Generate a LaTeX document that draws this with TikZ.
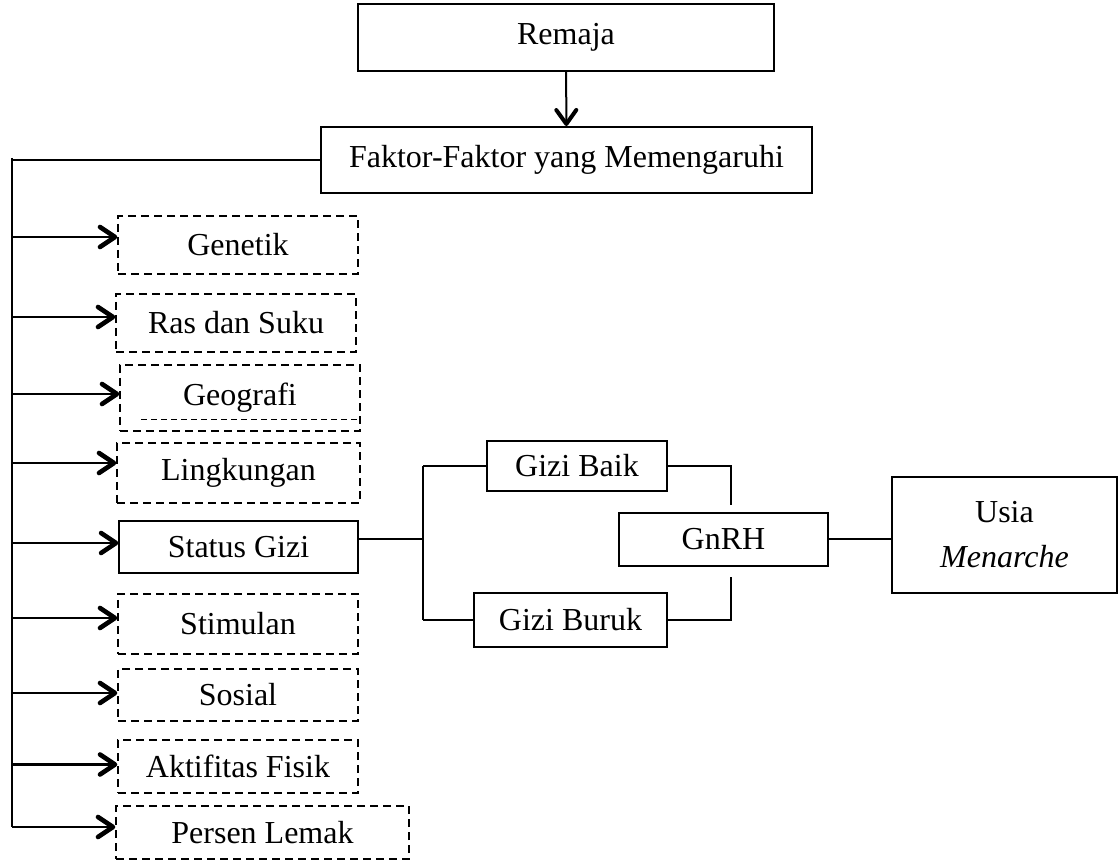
\documentclass[tikz,border=0pt]{standalone}
\usepackage{fontspec}
\setmainfont{Liberation Serif}
\usetikzlibrary{arrows.meta}

\tikzset{
  box/.style={draw, line width=0.6pt, inner sep=0pt, font=\fontsize{16}{19}\selectfont, align=center},
  dbox/.style={box, dash pattern=on 4pt off 2.5pt, line width=0.7pt},
  link/.style={line width=0.8pt},
  arr/.style={line width=1.3pt, -{Straight Barb[length=7.5pt,width=10pt,line width=2.3pt,round]}},
}

\begin{document}
\begin{tikzpicture}[x=0.5pt,y=-0.5pt]
      \useasboundingbox (0,0) rectangle (1119,865);

      % top
      \node[box, line width=1pt, minimum width=208pt, minimum height=33.5pt] (remaja) at (566,37.5) {Remaja};
      \node[box, line width=1pt, minimum width=245.5pt, minimum height=33pt] (faktor) at (566.5,160) {Faktor-Faktor yang Memengaruhi};
      \draw[line width=1pt, -{Straight Barb[length=7pt,width=10pt,line width=2pt,round]}] (remaja) -- (faktor);

      % faktor-faktor
      \node[dbox, minimum width=120pt, minimum height=29pt] (gen) at (238,245) {Genetik};
      \node[dbox, minimum width=120pt, minimum height=29pt] (ras) at (236,323) {Ras dan Suku};
      \node[dbox, minimum width=120pt, minimum height=33pt] (geo) at (240,398) {Geografi};
      \draw[dash pattern=on 3pt off 2pt, line width=0.4pt] ([xshift=11pt,yshift=6pt]geo.south west) -- ([yshift=6pt]geo.south east);
      \node[dbox, minimum width=121.5pt, minimum height=30pt] (ling) at (238.5,473) {Lingkungan};
      \node[box, minimum width=119.5pt, minimum height=26pt] (status) at (238.5,547) {Status Gizi};
      \node[dbox, minimum width=120pt, minimum height=30pt] (stim) at (238,624) {Stimulan};
      \node[dbox, minimum width=120pt, minimum height=26pt] (sos) at (238,695) {Sosial};
      \node[dbox, minimum width=120pt, minimum height=26.5pt] (akt) at (238,766.5) {Aktifitas Fisik};
      \node[dbox, minimum width=146.5pt, minimum height=26.5pt] (persen) at (262.5,832.5) {Persen Lemak};

      \coordinate (bus) at (12,158);
      \coordinate (busend) at (12,827);
      \draw[link] (faktor.west) -- (faktor.west -| bus);
      \draw[line width=1pt] (bus) -- (busend);
      \foreach \b/\dy in {gen/4,ras/3,geo/2,ling/5,status/2,stim/3,sos/1,akt/1}
        \draw[arr] ([yshift=\dy pt]\b.west -| bus) -- ([yshift=\dy pt]\b.west);
      \draw[arr] (busend) -- (persen.west |- busend);

      % status gizi
      \node[box, minimum width=90pt, minimum height=25pt] (baik) at (577,466) {Gizi Baik};
      \node[box, minimum width=96.5pt, minimum height=27pt] (buruk) at (570.5,620) {Gizi Buruk};
      \node[box, minimum width=104.5pt, minimum height=26.5pt] (gnrh) at (723.5,539.5) {GnRH};
      \node[box, minimum width=112.5pt, minimum height=58pt] (usia) at (1004.5,535) {Usia\\[3.5pt]\textit{Menarche}};

      \coordinate (jn) at (423,0);
      \coordinate (kn) at (731,0);
      \draw[link] ([yshift=4pt]status.east) -- ([yshift=4pt]status.east -| jn);
      \draw[link] (baik.west -| jn) -- (buruk.west -| jn);
      \draw[link] (baik.west -| jn) -- (baik.west);
      \draw[link] (buruk.west -| jn) -- (buruk.west);
      \draw[link, shorten >=3.5pt] (baik.east) -| (kn |- gnrh.north);
      \draw[link, shorten >=5pt] (buruk.east) -| (kn |- gnrh.south);
      \draw[line width=1pt] (gnrh.east) -- (gnrh.east -| usia.west);

\end{tikzpicture}
\end{document}
